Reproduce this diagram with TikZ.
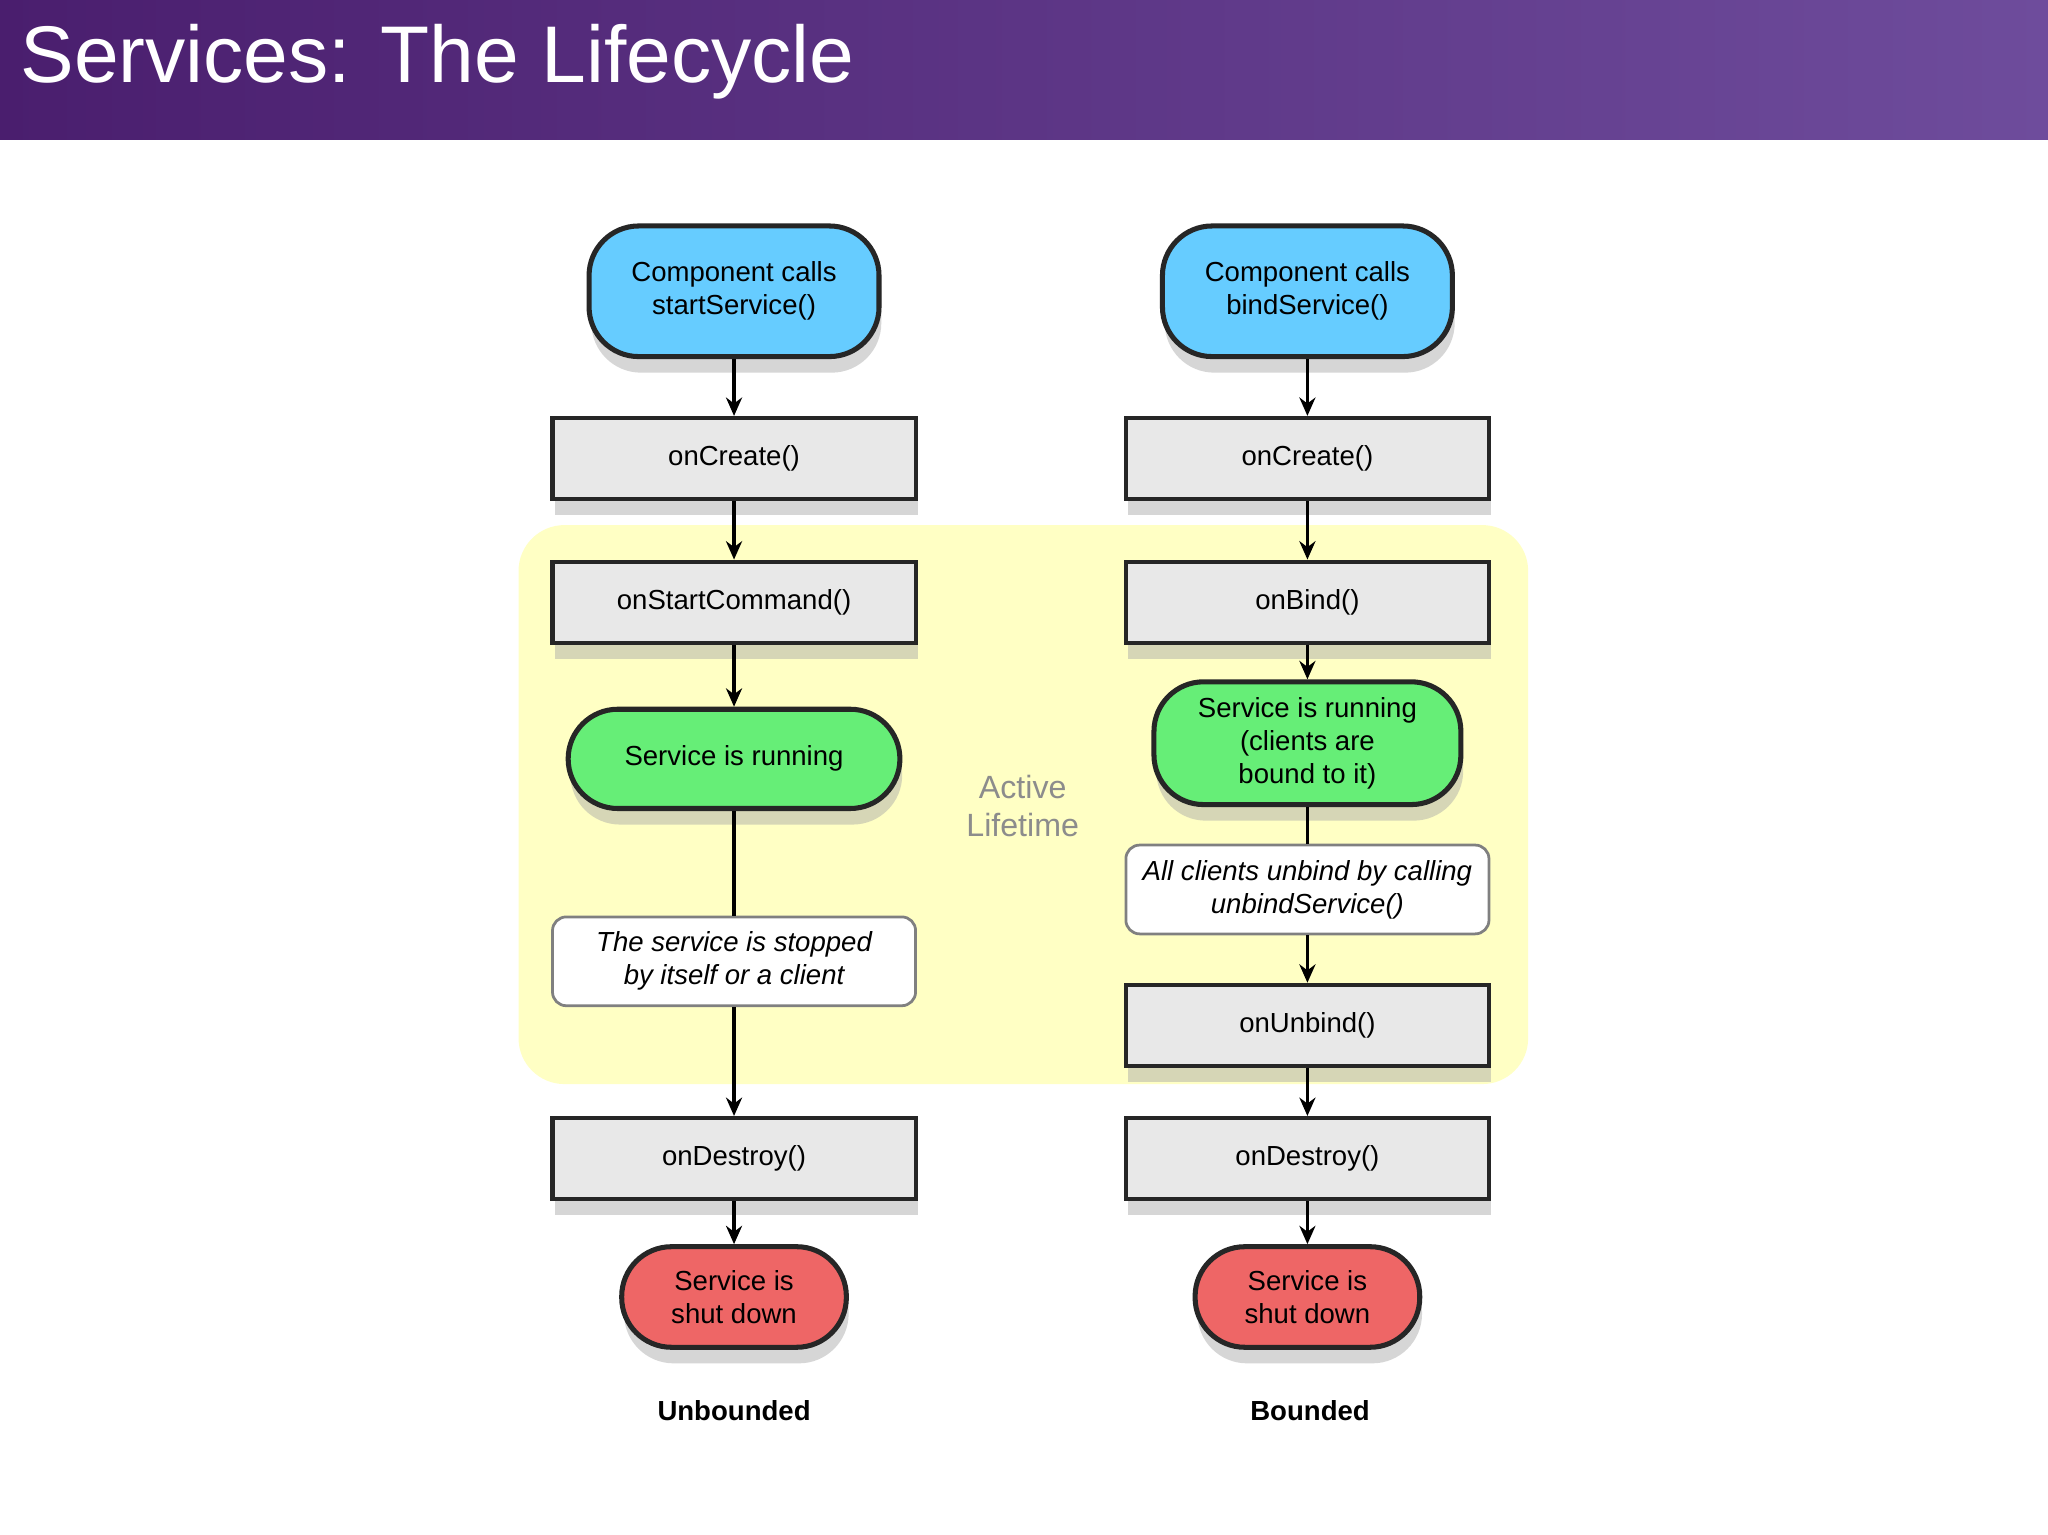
\documentclass[tikz,border=0pt]{standalone}
\usepackage{fontspec}
\setmainfont{Liberation Sans}
\usetikzlibrary{shadows,arrows.meta}
\definecolor{tb1}{HTML}{4A1E6E}
\definecolor{tb2}{HTML}{6E4C9C}
\definecolor{bl}{HTML}{66CCFF}
\definecolor{gr}{HTML}{66EE77}
\definecolor{rd}{HTML}{EE6666}
\definecolor{yl}{HTML}{FFFFC4}
\definecolor{bx}{HTML}{E8E8E8}
\begin{document}
\begin{tikzpicture}[x=0.01cm,y=-0.01cm,
 sh/.style={drop shadow={shadow xshift=0.5pt,shadow yshift=-3.5pt,fill=black!35,opacity=.45}},
 pill/.style={draw=black!85,line width=1.1pt,rounded corners=38*0.01cm,sh,font=\fontsize{6}{7.2}\selectfont,align=center,inner sep=0pt},
 box/.style={draw=black!85,line width=0.9pt,fill=bx,sh,minimum width=278*0.01cm,minimum height=62*0.01cm,font=\fontsize{6}{7.2}\selectfont,inner sep=0pt},
 note/.style={draw=black!50,line width=0.6pt,fill=white,rounded corners=3pt,minimum width=278*0.01cm,minimum height=68*0.01cm,font=\fontsize{6}{7.2}\selectfont\itshape,align=center,inner sep=0pt},
 ar/.style={-{Stealth[length=4pt,width=3.5pt]},line width=0.8pt},
 ln/.style={line width=0.8pt}]
\useasboundingbox (0,0) rectangle (1568,1175);
\fill[white] (0,0) rectangle (1568,1175);
\shade[left color=tb1,right color=tb2] (0,0) rectangle (1568,107);
\node[anchor=west,text=white,font=\fontsize{17.5}{20}\selectfont,inner sep=0pt] (title) at (15,47) {Services: The Lifecycle};
\fill[yl,rounded corners=10pt] (397,402) rectangle (1170,830);
\node[text=black!45,font=\fontsize{7}{8.2}\selectfont,align=center] (al) at (783,617) {Active\\Lifetime};
% left
\node[pill,fill=bl,minimum width=222*0.01cm,minimum height=100*0.01cm] (s1) at (562,223) {Component calls\\startService()};
\node[box] (c1) at (562,351) {onCreate()};
\node[box] (sc) at (562,461) {onStartCommand()};
\node[pill,fill=gr,minimum width=254*0.01cm,minimum height=76*0.01cm] (r1) at (562,581) {Service is running};
\node[note] (n1) at (562,736) {The service is stopped\\by itself or a client};
\node[box] (d1) at (562,887) {onDestroy()};
\node[pill,fill=rd,minimum width=172*0.01cm,minimum height=77*0.01cm] (x1) at (562,993) {Service is\\shut down};
\node[font=\fontsize{6}{7.2}\selectfont\bfseries] (u) at (562,1080) {Unbounded};
% right
\node[pill,fill=bl,minimum width=222*0.01cm,minimum height=100*0.01cm] (s2) at (1001,223) {Component calls\\bindService()};
\node[box] (c2) at (1001,351) {onCreate()};
\node[box] (b2) at (1001,461) {onBind()};
\node[pill,fill=gr,minimum width=235*0.01cm,minimum height=94*0.01cm] (r2) at (1001,569) {Service is running\\(clients are\\bound to it)};
\node[note] (n2) at (1001,681) {All clients unbind by calling\\unbindService()};
\node[box] (ub) at (1001,785) {onUnbind()};
\node[box] (d2) at (1001,887) {onDestroy()};
\node[pill,fill=rd,minimum width=172*0.01cm,minimum height=77*0.01cm] (x2) at (1001,993) {Service is\\shut down};
\node[font=\fontsize{6}{7.2}\selectfont\bfseries] (b) at (1003,1080) {Bounded};
\draw[ar] (s1) -- (c1); \draw[ar] (c1) -- (sc); \draw[ar] (sc) -- (r1);
\draw[ln] (r1) -- (n1); \draw[ar] (n1) -- (d1); \draw[ar] (d1) -- (x1);
\draw[ar] (s2) -- (c2); \draw[ar] (c2) -- (b2); \draw[ar] (b2) -- (r2);
\draw[ln] (r2) -- (n2); \draw[ar] (n2) -- (ub); \draw[ar] (ub) -- (d2); \draw[ar] (d2) -- (x2);
\end{tikzpicture}
\end{document}
